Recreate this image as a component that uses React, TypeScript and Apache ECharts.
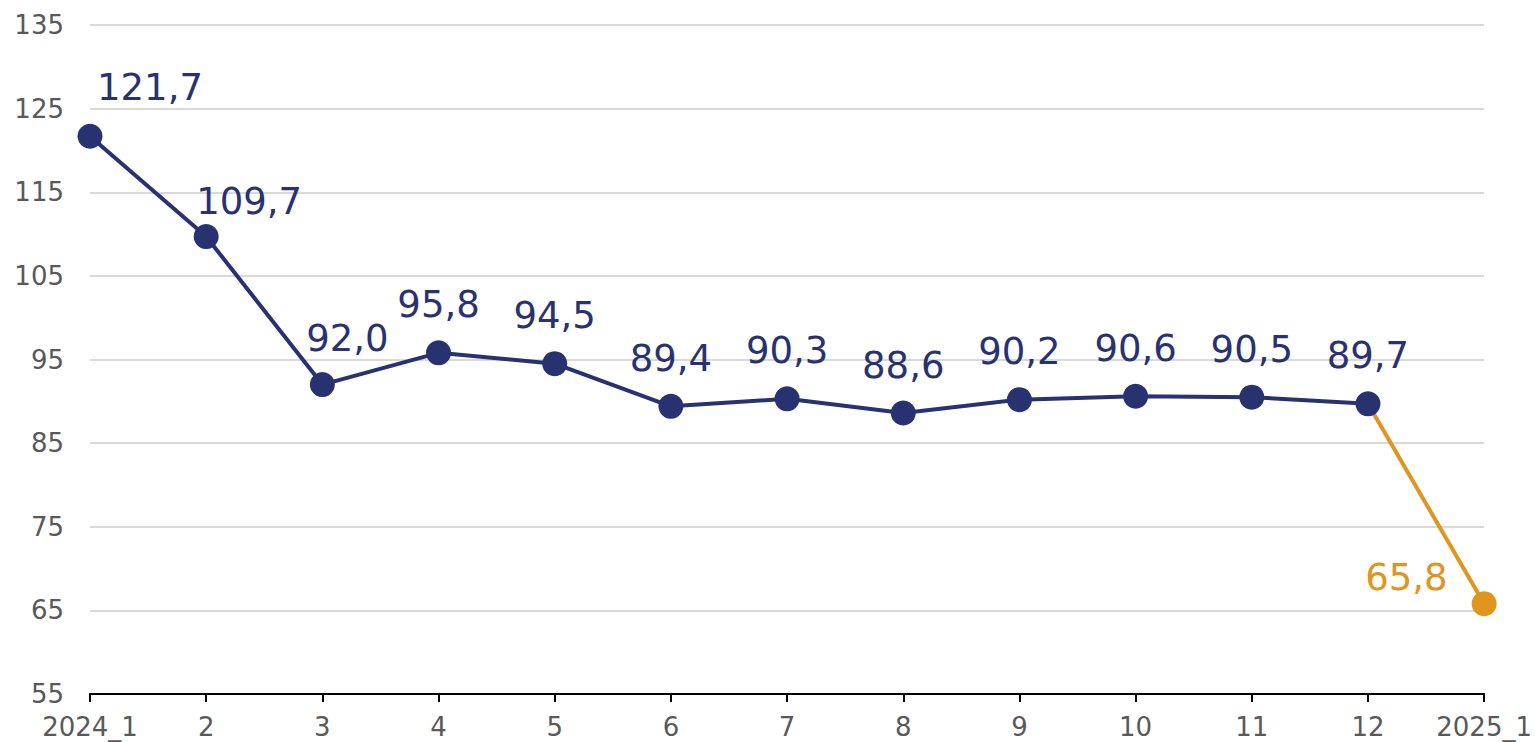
import React, { useEffect, useRef } from "react";
import * as echarts from "echarts";

const categories = ["2024_1", "2", "3", "4", "5", "6", "7", "8", "9", "10", "11", "12", "2025_1"];
const values2024 = [121.7, 109.7, 92.0, 95.8, 94.5, 89.4, 90.3, 88.6, 90.2, 90.6, 90.5, 89.7];
const value2025 = 65.8;
const yTicks = { min: 55, max: 135, interval: 10 };

const NAVY = "#283271";
const ORANGE = "#E0951F";
const FONT = "DejaVu Sans, Verdana, sans-serif";

const fmt = (v: number) => v.toFixed(1).replace(".", ",");

// label nudges (to keep labels clear of the line)
const labelOffsets: Record<number, [number, number]> = {
  0: [60, -1],
  1: [43, 13],
  2: [25, 2],
};

export default function App() {
  const ref = useRef<HTMLDivElement>(null);
  useEffect(() => {
    if (!ref.current) return;
    const chart = echarts.init(ref.current, null, { renderer: "svg" });
    const navyData: any[] = values2024.map((v, i) =>
      labelOffsets[i] ? { value: v, label: { offset: labelOffsets[i] } } : v
    );
    navyData.push("-");
    const orangeData: any[] = categories.map(() => "-");
    orangeData[values2024.length - 1] = {
      value: values2024[values2024.length - 1],
      symbol: "none",
      label: { show: false },
    };
    orangeData[categories.length - 1] = value2025;

    chart.setOption({
      animation: false,
      grid: { left: 90, right: 50, top: 25, bottom: 48, containLabel: false },
      xAxis: {
        type: "category",
        data: categories,
        boundaryGap: false,
        axisLine: { lineStyle: { color: "#000", width: 2 } },
        axisTick: { show: true, length: 8, alignWithLabel: true, lineStyle: { color: "#000", width: 2 } },
        axisLabel: { color: "#595959", fontSize: 26, fontFamily: FONT, margin: 20, interval: 0 },
        splitLine: { show: false },
      },
      yAxis: {
        type: "value",
        min: yTicks.min,
        max: yTicks.max,
        interval: yTicks.interval,
        axisLine: { show: false },
        axisTick: { show: false },
        axisLabel: { color: "#595959", fontSize: 26, fontFamily: FONT, margin: 26 },
        splitLine: { lineStyle: { color: "#D9D9D9", width: 2 } },
      },
      series: [
        {
          type: "line",
          data: orangeData,
          symbol: "circle",
          symbolSize: 25,
          lineStyle: { color: ORANGE, width: 4 },
          itemStyle: { color: ORANGE },
          z: 2,
          label: {
            show: true,
            position: "left",
            distance: 24,
            offset: [0, -26],
            color: ORANGE,
            fontSize: 37,
            fontFamily: FONT,
            formatter: (p: any) => fmt(p.value),
          },
        },
        {
          type: "line",
          data: navyData,
          symbol: "circle",
          symbolSize: 25,
          lineStyle: { color: NAVY, width: 4 },
          itemStyle: { color: NAVY },
          z: 3,
          label: {
            show: true,
            position: "top",
            distance: 17,
            color: NAVY,
            fontSize: 37,
            fontFamily: FONT,
            formatter: (p: any) => fmt(p.value),
          },
        },
      ],
    });
    return () => chart.dispose();
  }, []);
  return (
    <div
      ref={ref}
      style={{ position: "fixed", left: 0, top: 0, width: 1535, height: 742, background: "#fff" }}
    />
  );
}
